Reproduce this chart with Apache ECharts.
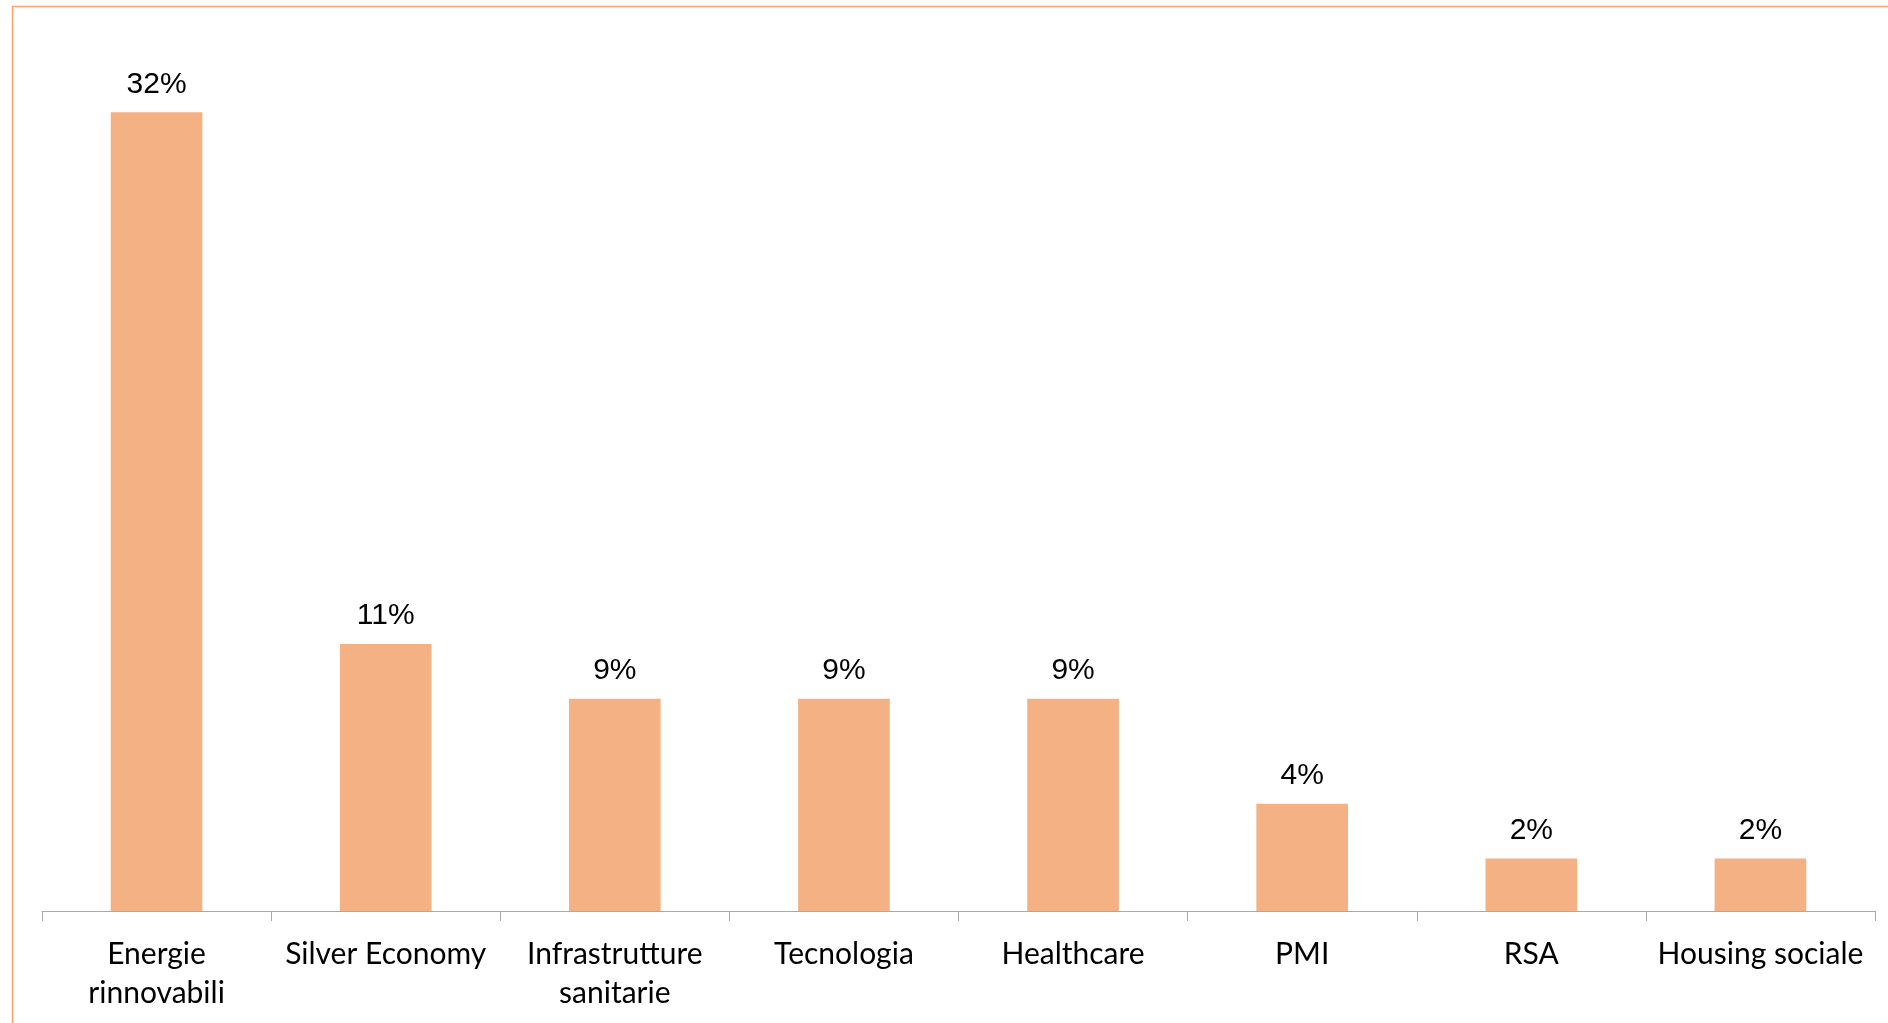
<!DOCTYPE html>
<html>
<head>
<meta charset="utf-8">
<script src="https://cdn.jsdelivr.net/npm/echarts@6/dist/echarts.min.js"></script>
<style>
html,body{margin:0;padding:0;background:#fff;}
#chart{width:1888px;height:1023px;}
</style>
</head>
<body>
<div id="chart"></div>
<script>
const categories = ["Energie\nrinnovabili", "Silver Economy", "Infrastrutture\nsanitarie", "Tecnologia", "Healthcare", "PMI", "RSA", "Housing sociale"];
const values = [32.0, 10.7, 8.5, 8.5, 8.5, 4.3, 2.1, 2.1];

const chart = echarts.init(document.getElementById('chart'), null, {renderer: 'canvas'});
chart.setOption({
  animation: false,
  backgroundColor: '#ffffff',
  graphic: [{
    type: 'rect',
    shape: {x: 12.5, y: 6.5, width: 3000, height: 3000},
    style: {fill: 'none', stroke: '#F6A46C', lineWidth: 1.5},
    z: 0
  }],
  grid: {left: 42, right: 13, top: 37.4, bottom: 112, containLabel: false},
  xAxis: {
    type: 'category',
    data: categories,
    boundaryGap: true,
    axisLine: {show: true, lineStyle: {color: '#A9A9A9', width: 1}},
    axisTick: {show: true, alignWithLabel: false, length: 10, lineStyle: {color: '#A9A9A9', width: 1}},
    axisLabel: {
      interval: 0,
      margin: 24,
      fontFamily: 'Lato',
      fontSize: 30,
      lineHeight: 39,
      color: '#000000'
    }
  },
  yAxis: {
    type: 'value',
    min: 0,
    max: 35,
    show: false,
    splitLine: {show: false}
  },
  series: [{
    type: 'bar',
    data: values,
    barWidth: '40%',
    itemStyle: {color: '#F4B183'},
    label: {
      show: true,
      position: 'top',
      distance: 13,
      fontFamily: 'Liberation Sans',
      fontSize: 30,
      color: '#000000',
      formatter: function (p) { return Math.round(p.value) + '%'; }
    }
  }]
});
</script>
</body>
</html>
